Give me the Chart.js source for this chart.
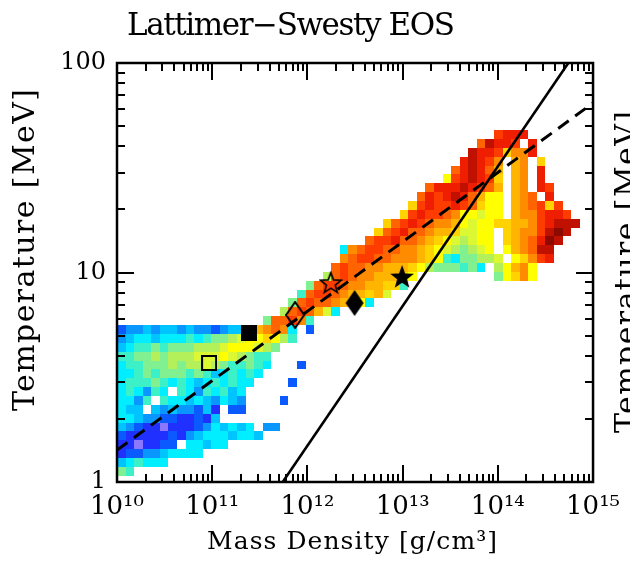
<!DOCTYPE html>
<html>
<head>
<meta charset="utf-8">
<title>Lattimer-Swesty EOS</title>
<script src="https://cdn.jsdelivr.net/npm/chart.js@4.4.1/dist/chart.umd.min.js"></script>
<style>
  html, body { margin: 0; padding: 0; background: #fff; }
  canvas { display: block; }
</style>
</head>
<body>
<canvas id="eos" width="630" height="561"></canvas>
<script>
// Axis decades (log10 of rho and T)
const xDecades = [10, 11, 12, 13, 14, 15];
const yDecades = [0, 1, 2];

// Histogram bins: first edge and width, in log10 units
const xBinStart = 10, xBinStep = 0.09;
const yBinStart = 0.03, yBinStep = 0.0423;

// Level codes of the 2D histogram and their colours
const levelCodes = "0123456789abcdefghi";
const levelColors = [
  "#8c78ff", "#2030ff", "#0a5aff", "#0a96ff", "#00c4ff", "#00eeff", "#3cf0c8",
  "#80f090", "#b4f05a", "#dcf832", "#ffff00", "#ffd200", "#ffb400", "#ff8c00",
  "#ff6400", "#ff3c00", "#f01e00", "#c01000", "#8c0a00"
];

// One entry per bin row, top row first: [first column, level codes ('.' = empty)]
const heatRows = [
  [44, "fggg"],
  [42, "ehggf.g"],
  [41, "hggfbddg"],
  [40, "ghgfd.cd.b"],
  [39, "eghgec.cd.g"],
  [38, "afghgfb.cd.g"],
  [36, "eggghgfec.cd.gf"],
  [35, "egfghgecaa.cde.g"],
  [34, "bfgffgfebaa.cdefbf"],
  [33, "bfgffedaa9aa.cddfggf"],
  [31, "befgfeddca9aabbccdfghhh"],
  [30, "befgeedccb99aa.bcddfhih"],
  [29, "effgeedcba989aa.bcdegih"],
  [26, "5deffeeddcba98789a.acdehh"],
  [26, "deffeedddcba6577889.abdfg"],
  [25, "efeeddcccba8777675.8acda"],
  [24, "8efeddcccba.........7abda"],
  [22, "7effeddccbb6"],
  [21, "6effedccbc9"],
  [20, "7efeedcba5"],
  [19, "8efec95"],
  [17, "7eefd6"],
  [0, "233434434332344bcded5.2"],
  [0, "345545556567789aaba86"],
  [0, "4566767778889aaa987"],
  [0, "667787888999a98766"],
  [0, "566777878898766765...2"],
  [0, "55676777676456565"],
  [0, "5666765654565655....2"],
  [0, "565365.65365645"],
  [0, "5536.6554543543....2"],
  [0, "544.43433241.22"],
  [0, "554332211214"],
  [0, "4321101112354545.33"],
  [0, "21111121345554554"],
  [0, "1101122.55455"],
  [0, "1223345555"],
  [0, "456555"],
  [0, "76"]
];

// Reference lines: T ~ rho^(1/3) (dashed) and T ~ rho^(2/3) (solid)
const dashedRho = [1e10, 1e15];
const dashedT = [1.42, 64.4];
const solidRho = [5.5e11, 5.5e14];
const solidT = [1, 100];

// Marked points
const markerRho = [2.41e11, 9.27e10, 7.43e11, 3.13e12, 1.76e12, 9.87e12];
const markerT = [5.14, 3.70, 6.27, 7.15, 8.91, 9.52];
const markerKinds = ["squareFilled", "squareOpen", "diamondOpen", "diamondFilled", "starOpen", "starFilled"];

const FONT = '"DejaVu Serif", serif';
const SUP = { 0: "\u2070", 1: "\u00b9", 2: "\u00b2", 3: "\u00b3", 4: "\u2074", 5: "\u2075", 6: "\u2076", 7: "\u2077", 8: "\u2078", 9: "\u2079" };

function markerCanvas(w, h, draw) {
  const c = document.createElement("canvas");
  c.width = w;
  c.height = h;
  const g = c.getContext("2d");
  g.fillStyle = "#000";
  g.strokeStyle = "#000";
  draw(g, w, h);
  return c;
}

function starPath(g, cx, cy, R, r) {
  g.beginPath();
  for (let i = 0; i < 10; i++) {
    const ang = -Math.PI / 2 + i * Math.PI / 5;
    const rad = i % 2 ? r : R;
    g.lineTo(cx + rad * Math.cos(ang), cy + rad * Math.sin(ang));
  }
  g.closePath();
}

function diamondPath(g, w, h) {
  g.beginPath();
  g.moveTo(w / 2, 1);
  g.lineTo(w - 1, h / 2);
  g.lineTo(w / 2, h - 1);
  g.lineTo(1, h / 2);
  g.closePath();
}

const markerImages = {
  squareFilled: markerCanvas(16, 16, (g) => g.fillRect(0, 0, 16, 16)),
  squareOpen: markerCanvas(16, 16, (g) => { g.lineWidth = 2; g.strokeRect(1, 1, 14, 14); }),
  diamondOpen: markerCanvas(20, 28, (g, w, h) => { g.lineWidth = 2; diamondPath(g, w, h); g.stroke(); }),
  diamondFilled: markerCanvas(20, 28, (g, w, h) => { diamondPath(g, w, h); g.fill(); }),
  starOpen: markerCanvas(24, 24, (g) => { g.lineWidth = 1.6; starPath(g, 12, 12.6, 11, 4.6); g.stroke(); }),
  starFilled: markerCanvas(26, 26, (g) => { starPath(g, 13, 13.6, 12.5, 5.2); g.fill(); })
};

// 2D histogram cells, drawn through the axis scales
const heatPlugin = {
  id: "heat",
  beforeDatasetsDraw(chart) {
    const { ctx, chartArea: a, scales: { x, y } } = chart;
    const top = heatRows.length - 1;
    ctx.save();
    ctx.beginPath();
    ctx.rect(a.left, a.top, a.width, a.height);
    ctx.clip();
    heatRows.forEach(([startCol, codes], i) => {
      const row = top - i;
      const y0 = Math.round(y.getPixelForValue(10 ** (yBinStart + (row + 1) * yBinStep)));
      const y1 = Math.round(y.getPixelForValue(10 ** (yBinStart + row * yBinStep)));
      for (let k = 0; k < codes.length; k++) {
        const level = levelCodes.indexOf(codes[k]);
        if (level < 0) continue;
        const col = startCol + k;
        const x0 = Math.round(x.getPixelForValue(10 ** (xBinStart + col * xBinStep)));
        const x1 = Math.round(x.getPixelForValue(10 ** (xBinStart + (col + 1) * xBinStep)));
        ctx.fillStyle = levelColors[level];
        ctx.fillRect(x0, y0, x1 - x0, y1 - y0);
      }
    });
    ctx.restore();
  }
};

// Frame and inward ticks on all four sides
const framePlugin = {
  id: "frame",
  afterDatasetsDraw(chart) {
    const { ctx, chartArea: a, scales: { x, y } } = chart;
    ctx.save();
    ctx.strokeStyle = "#000";
    ctx.lineWidth = 2;
    ctx.beginPath();
    for (let e = xDecades[0]; e <= xDecades[xDecades.length - 1]; e++) {
      for (let m = 1; m <= 9; m++) {
        const v = m * 10 ** e;
        if (v > x.max * 1.0001) break;
        const px = Math.round(x.getPixelForValue(v));
        const len = m === 1 ? 17 : 8;
        ctx.moveTo(px, a.bottom); ctx.lineTo(px, a.bottom - len);
        ctx.moveTo(px, a.top); ctx.lineTo(px, a.top + len);
      }
    }
    for (let e = yDecades[0]; e <= yDecades[yDecades.length - 1]; e++) {
      for (let m = 1; m <= 9; m++) {
        const v = m * 10 ** e;
        if (v > y.max * 1.0001) break;
        const py = Math.round(y.getPixelForValue(v));
        const len = m === 1 ? 17 : 8;
        ctx.moveTo(a.left, py); ctx.lineTo(a.left + len, py);
        ctx.moveTo(a.right, py); ctx.lineTo(a.right - len, py);
      }
    }
    ctx.stroke();
    ctx.lineWidth = 2.5;
    ctx.strokeRect(a.left, a.top, a.width, a.height);
    ctx.restore();
  }
};

function spacedText(ctx, text, cx, baseline, size, width) {
  ctx.font = size + "px " + FONT;
  ctx.letterSpacing = "0px";
  const natural = ctx.measureText(text).width;
  ctx.letterSpacing = ((width - natural) / (text.length - 1)) + "px";
  ctx.textAlign = "left";
  ctx.textBaseline = "alphabetic";
  ctx.fillText(text, cx - width / 2, baseline);
  ctx.letterSpacing = "0px";
}

// Title and axis titles (plus the clipped label of the next panel)
const textPlugin = {
  id: "texts",
  afterDraw(chart) {
    const { ctx } = chart;
    ctx.save();
    ctx.fillStyle = "#000";
    spacedText(ctx, "Lattimer\u2212Swesty EOS", 291, 35, 31, 328);
    spacedText(ctx, "Mass Density [g/cm\u00b3]", 352, 549, 25, 290);
    ctx.save();
    ctx.translate(34, 250);
    ctx.rotate(-Math.PI / 2);
    spacedText(ctx, "Temperature [MeV]", 0, 0, 30, 322);
    ctx.restore();
    ctx.save();
    ctx.translate(636, 272);
    ctx.rotate(-Math.PI / 2);
    spacedText(ctx, "Temperature [MeV]", 0, 0, 30, 322);
    ctx.restore();
    ctx.restore();
  }
};

new Chart(document.getElementById("eos"), {
  type: "scatter",
  plugins: [heatPlugin, framePlugin, textPlugin],
  data: {
    datasets: [
      {
        data: markerRho.map((r, i) => ({ x: r, y: markerT[i] })),
        pointStyle: markerKinds.map((k) => markerImages[k]),
        pointRadius: 10,
        showLine: false
      },
      {
        data: dashedRho.map((r, i) => ({ x: r, y: dashedT[i] })),
        showLine: true,
        borderColor: "#000",
        borderWidth: 3,
        borderDash: [13, 8],
        pointRadius: 0
      },
      {
        data: solidRho.map((r, i) => ({ x: r, y: solidT[i] })),
        showLine: true,
        borderColor: "#000",
        borderWidth: 2.6,
        pointRadius: 0
      }
    ]
  },
  options: {
    responsive: false,
    animation: false,
    events: [],
    layout: { padding: { top: 63, right: 32, left: 0, bottom: 0 } },
    plugins: {
      legend: { display: false },
      tooltip: { enabled: false },
      title: { display: false }
    },
    scales: {
      x: {
        type: "logarithmic",
        min: 10 ** xDecades[0],
        max: 10 ** xDecades[xDecades.length - 1],
        grid: { display: false, drawTicks: false },
        border: { display: false },
        afterBuildTicks: (scale) => { scale.ticks = xDecades.map((e) => ({ value: 10 ** e })); },
        afterFit: (scale) => { scale.height = 79; },
        ticks: {
          autoSkip: false,
          maxRotation: 0,
          padding: 10,
          color: "#000",
          font: { family: FONT, size: 26 },
          callback: (value) => "10" + String(Math.round(Math.log10(value))).split("").map((d) => SUP[d]).join("")
        }
      },
      y: {
        type: "logarithmic",
        min: 10 ** yDecades[0],
        max: 10 ** yDecades[yDecades.length - 1],
        grid: { display: false, drawTicks: false },
        border: { display: false },
        afterBuildTicks: (scale) => { scale.ticks = yDecades.map((e) => ({ value: 10 ** e })); },
        afterFit: (scale) => { scale.width = 117; },
        ticks: {
          autoSkip: false,
          padding: 11,
          color: "#000",
          font: { family: FONT, size: 24 },
          callback: (value) => String(Math.round(value))
        }
      }
    }
  }
});
</script>
</body>
</html>
